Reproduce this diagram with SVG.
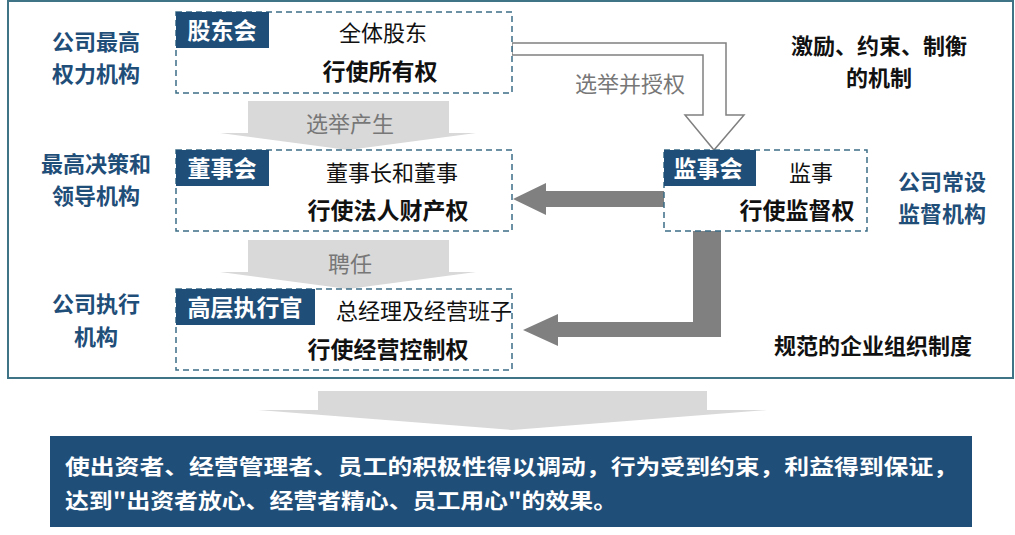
<svg xmlns="http://www.w3.org/2000/svg" width="1015" height="535" viewBox="0 0 1015 535">
<style>
text{font-family:"Noto Sans CJK SC","Liberation Sans",sans-serif}
.box{fill:#fff;stroke:#3c6e86;stroke-width:1.5;stroke-dasharray:6 4}
.lab{fill:#1f4e79}
.lt{fill:#fff;font-size:23px;font-weight:bold}
.side{fill:#1f4e79;font-size:22px;font-weight:bold;text-anchor:middle}
.t1{fill:#111;font-size:22px;text-anchor:middle}
.t2{fill:#111;font-size:23px;font-weight:bold;text-anchor:middle}
.blk{fill:#111;font-size:22px;font-weight:bold;text-anchor:middle}
.ga{fill:#d9d9d9}
.gt{fill:#777;font-size:22px;text-anchor:middle}
.da{fill:#808080}
</style>
<rect x="8" y="1" width="1005" height="377" fill="#fff" stroke="#3f7386" stroke-width="2"/>
<g id="connectors">
<polygon class="ga" points="248,101 449,101 449,133 476,133 348,150 220,133 248,133"/>
<text class="gt" x="350" y="132">选举产生</text>
<polygon class="ga" points="248,240 449,240 449,272 476,272 348,289 220,272 248,272"/>
<text class="gt" x="350" y="272">聘任</text>
<polygon fill="#fff" stroke="#808080" stroke-width="1.5" points="512,43 726,43 726,115 744,115 714,150 685,115 703,115 703,55 512,55"/>
<text class="gt" x="630" y="92">选举并授权</text>
<polygon class="da" points="664,191 546,191 546,183 513,199 546,215 546,207 664,207"/>
<polygon class="da" points="693,231 721,231 721,337 558,337 558,346 523,330 558,314 558,322 693,322"/>
<polygon class="ga" points="318,391 707,391 707,410 767,410 512,430 258,410 318,410"/>
</g>
<g id="gudonghui">
<rect class="box" x="176" y="12" width="336" height="81"/>
<rect class="lab" x="176" y="12" width="93" height="36"/>
<text class="lt" x="222" y="39" text-anchor="middle">股东会</text>
<text class="t1" x="383" y="41">全体股东</text>
<text class="t2" x="380" y="80">行使所有权</text>
</g>
<g id="dongshihui">
<rect class="box" x="176" y="150" width="336" height="81"/>
<rect class="lab" x="176" y="150" width="93" height="36"/>
<text class="lt" x="222" y="177" text-anchor="middle">董事会</text>
<text class="t1" x="392" y="181">董事长和董事</text>
<text class="t2" x="388" y="219">行使法人财产权</text>
</g>
<g id="gaoceng">
<rect class="box" x="176" y="289" width="336" height="81"/>
<rect class="lab" x="176" y="289" width="139" height="36"/>
<text class="lt" x="245" y="316" text-anchor="middle">高层执行官</text>
<text class="t1" x="424" y="319">总经理及经营班子</text>
<text class="t2" x="388" y="358">行使经营控制权</text>
</g>
<g id="jianshihui">
<rect class="box" x="664" y="150" width="203" height="81"/>
<rect class="lab" x="664" y="150" width="92" height="36"/>
<text class="lt" x="708" y="177" text-anchor="middle">监事会</text>
<text class="t1" x="811" y="181">监事</text>
<text class="t2" x="797" y="219">行使监督权</text>
</g>
<g id="labels">
<text class="side" x="96" y="50">公司最高</text>
<text class="side" x="96" y="82">权力机构</text>
<text class="side" x="96" y="172">最高决策和</text>
<text class="side" x="96" y="204">领导机构</text>
<text class="side" x="96" y="312">公司执行</text>
<text class="side" x="96" y="345">机构</text>
<text class="side" x="942" y="190">公司常设</text>
<text class="side" x="942" y="222">监督机构</text>
<text class="blk" x="879" y="54">激励、约束、制衡</text>
<text class="blk" x="879" y="86">的机制</text>
<text class="blk" x="873" y="354">规范的企业组织制度</text>
</g>
<g id="result">
<rect x="50" y="436" width="922" height="91" fill="#1f4e79"/>
<text x="65" y="474" fill="#fff" font-size="21" font-weight="bold" textLength="893" lengthAdjust="spacingAndGlyphs">使出资者、经营管理者、员工的积极性得以调动，行为受到约束，利益得到保证，</text>
<text x="65" y="508" fill="#fff" font-size="21" font-weight="bold" textLength="552" lengthAdjust="spacingAndGlyphs">达到"出资者放心、经营者精心、员工用心"的效果。</text>
</g>
</svg>
